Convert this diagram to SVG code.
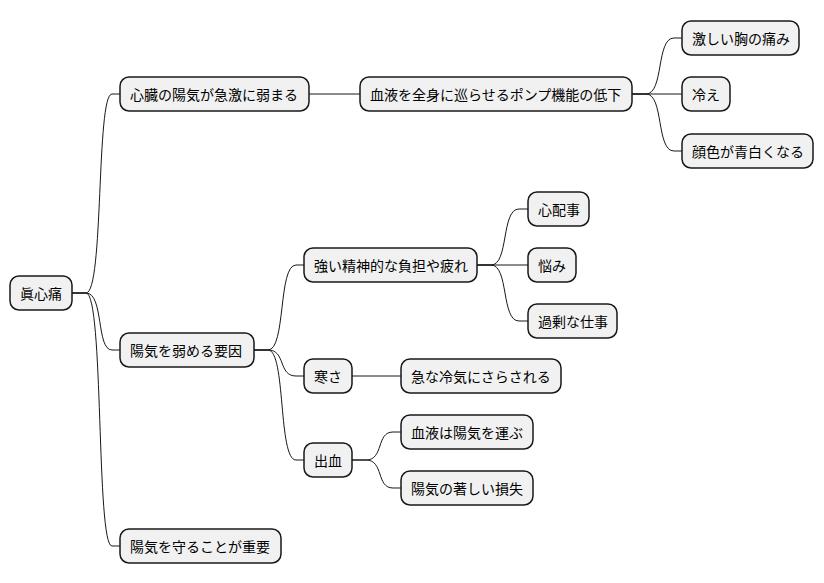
<svg xmlns="http://www.w3.org/2000/svg" width="824" height="583" viewBox="0 0 824 583">
<style>
.n rect{fill:#f1f1f1;stroke:#181818;stroke-width:1.5;rx:9;ry:9}
.n text{font-family:"Noto Sans CJK JP","Noto Sans",sans-serif;font-size:14px;fill:#000;dominant-baseline:central}
.c path{fill:none;stroke:#181818;stroke-width:1}
</style>
<rect width="824" height="583" fill="#fff"/>
<g class="c">
<path d="M72,293 L86,293 C104,293 96,94 112,94 L120,94"/>
<path d="M72,293 L86,293 C104,293 96,350 112,350 L120,350"/>
<path d="M72,293 L86,293 C104,293 96,546 112,546 L120,546"/>
<path d="M309,94 L360,94"/>
<path d="M632,94 L646,94 C664,94 656,38 674,38 L682,38"/>
<path d="M632,94 L682,94"/>
<path d="M632,94 L646,94 C664,94 656,151 674,151 L682,151"/>
<path d="M254,350 L268,350 C286,350 278,265 296,265 L304,265"/>
<path d="M254,350 L268,350 C286,350 278,376 296,376 L304,376"/>
<path d="M254,350 L268,350 C286,350 278,460 296,460 L304,460"/>
<path d="M477,265 L491,265 C509,265 501,209 519,209 L528,209"/>
<path d="M477,265 L528,265"/>
<path d="M477,265 L491,265 C509,265 501,321 519,321 L528,321"/>
<path d="M352,376 L401,376"/>
<path d="M352,460 L366,460 C384,460 376,432 393,432 L401,432"/>
<path d="M352,460 L366,460 C384,460 376,488 393,488 L401,488"/>
</g>
<g class="n" id="n0"><rect x="10" y="276" width="62" height="34"/><text x="20" y="293">眞心痛</text></g>
<g class="n" id="n1"><rect x="120" y="77" width="189" height="34"/><text x="130" y="94">心臓の陽気が急激に弱まる</text></g>
<g class="n" id="n2"><rect x="360" y="77" width="272" height="34"/><text x="370" y="94">血液を全身に巡らせるポンプ機能の低下</text></g>
<g class="n" id="n3"><rect x="682" y="21" width="117" height="34"/><text x="692" y="38">激しい胸の痛み</text></g>
<g class="n" id="n4"><rect x="682" y="77" width="48" height="34"/><text x="692" y="94">冷え</text></g>
<g class="n" id="n5"><rect x="682" y="134" width="131" height="34"/><text x="692" y="151">顔色が青白くなる</text></g>
<g class="n" id="n6"><rect x="120" y="333" width="134" height="34"/><text x="130" y="350">陽気を弱める要因</text></g>
<g class="n" id="n7"><rect x="304" y="248" width="173" height="34"/><text x="314" y="265">強い精神的な負担や疲れ</text></g>
<g class="n" id="n8"><rect x="528" y="192" width="61" height="34"/><text x="538" y="209">心配事</text></g>
<g class="n" id="n9"><rect x="528" y="248" width="48" height="34"/><text x="538" y="265">悩み</text></g>
<g class="n" id="n10"><rect x="528" y="304" width="89" height="34"/><text x="538" y="321">過剰な仕事</text></g>
<g class="n" id="n11"><rect x="304" y="359" width="48" height="34"/><text x="314" y="376">寒さ</text></g>
<g class="n" id="n12"><rect x="401" y="359" width="160" height="34"/><text x="411" y="376">急な冷気にさらされる</text></g>
<g class="n" id="n13"><rect x="304" y="443" width="48" height="34"/><text x="314" y="460">出血</text></g>
<g class="n" id="n14"><rect x="401" y="415" width="132" height="34"/><text x="411" y="432">血液は陽気を運ぶ</text></g>
<g class="n" id="n15"><rect x="401" y="471" width="132" height="34"/><text x="411" y="488">陽気の著しい損失</text></g>
<g class="n" id="n16"><rect x="120" y="529" width="161" height="34"/><text x="130" y="546">陽気を守ることが重要</text></g>
</svg>
